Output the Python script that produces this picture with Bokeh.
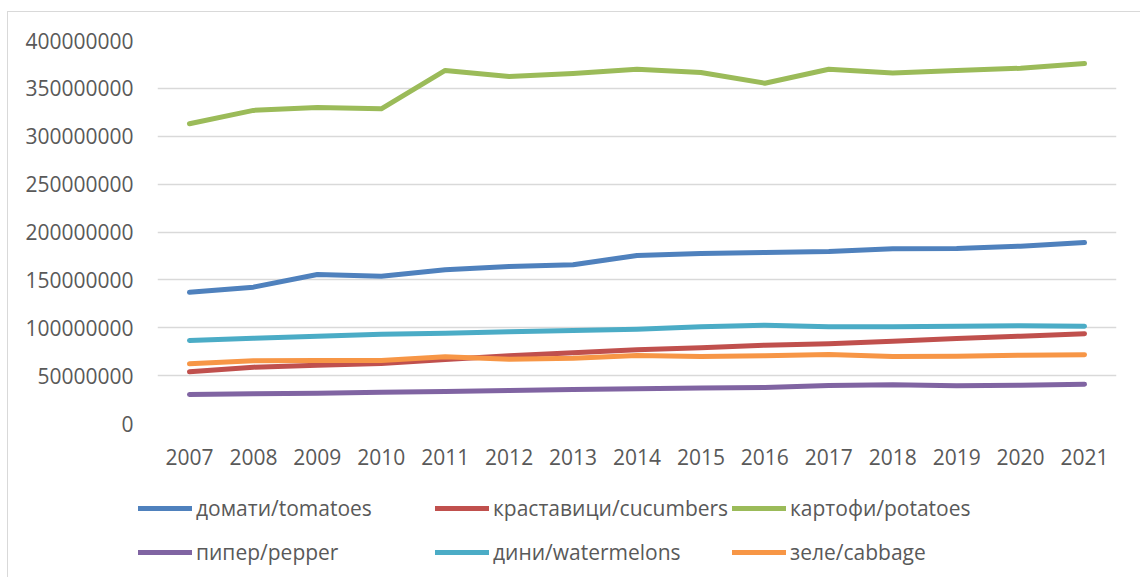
from bokeh.plotting import figure
from bokeh.models import (FactorRange, Range1d, FixedTicker, BasicTickFormatter,
                          Legend, LegendItem)
from bokeh.embed import file_html
from bokeh.resources import INLINE

years = [str(y) for y in range(2007, 2022)]
tomatoes = [137e6, 142.4e6, 155.6e6, 153.8e6, 160.5e6, 164e6, 165.7e6, 175.5e6,
            177.5e6, 178.6e6, 179.6e6, 182.4e6, 182.8e6, 185.2e6, 189e6]
cucumbers = [54e6, 58.8e6, 60.9e6, 62.7e6, 66.8e6, 70.7e6, 73.8e6, 77e6,
             79e6, 81.8e6, 83.2e6, 86e6, 88.8e6, 91.2e6, 93.7e6]
potatoes = [313e6, 327e6, 330e6, 328.6e6, 368.7e6, 362.4e6, 365.5e6, 370e6,
            366.6e6, 355.4e6, 370e6, 366e6, 368.7e6, 371e6, 376e6]
pepper = [30.3e6, 31e6, 31.7e6, 32.7e6, 33.4e6, 34.5e6, 35.5e6, 36.2e6,
          37.2e6, 37.6e6, 39.7e6, 40.4e6, 39.3e6, 40e6, 41e6]
watermelons = [86.7e6, 89e6, 91.2e6, 93.3e6, 94.3e6, 95.7e6, 97e6, 98.5e6,
               101e6, 102.7e6, 101e6, 101e6, 101.6e6, 102e6, 101.6e6]
cabbage = [62.3e6, 65.5e6, 65.8e6, 65.8e6, 69.6e6, 67.2e6, 68.2e6, 71e6,
           70e6, 70.7e6, 72e6, 70e6, 70.3e6, 71.3e6, 71.7e6]
y_ticks = [0, 50e6, 100e6, 150e6, 200e6, 250e6, 300e6, 350e6, 400e6]

series = [
    ("домати/tomatoes", tomatoes, "#4F81BD"),
    ("краставици/cucumbers", cucumbers, "#C0504D"),
    ("картофи/potatoes", potatoes, "#9BBB59"),
    ("пипер/pepper", pepper, "#8064A2"),
    ("дини/watermelons", watermelons, "#4BACC6"),
    ("зеле/cabbage", cabbage, "#F79646"),
]

FONT = "Open Sans"
TXT = "#595959"
BORDER = "1px solid #D9D9D9"
LW = 5

p = figure(x_range=FactorRange(*years, range_padding=0), y_range=Range1d(0, 400e6),
           width=1132, height=468, frame_width=959, frame_height=383,
           min_border_left=149, min_border_top=28, min_border_right=24, min_border_bottom=57,
           output_backend="svg", toolbar_location=None,
           styles={"margin-left": "7px", "margin-top": "11px",
                   "border-top": BORDER, "border-left": BORDER})
p.outline_line_color = None
p.background_fill_color = "white"
p.border_fill_color = "white"

for name, vals, col in series:
    p.line(years, vals, line_color=col, line_width=LW, line_cap="round", line_join="round")

p.xgrid.grid_line_color = None
p.ygrid.grid_line_color = "#D9D9D9"
p.ygrid.grid_line_width = 1.3
p.yaxis.ticker = FixedTicker(ticks=y_ticks)
p.yaxis.formatter = BasicTickFormatter(use_scientific=False)
for ax in (p.xaxis, p.yaxis):
    ax.axis_line_color = None
    ax.major_tick_line_color = None
    ax.minor_tick_line_color = None
    ax.major_tick_out = 0
    ax.major_tick_in = 0
    ax.major_label_text_font = FONT
    ax.major_label_text_font_size = "21px"
    ax.major_label_text_color = TXT
p.yaxis.major_label_standoff = 24
p.xaxis.major_label_standoff = 25

# legend strip: a second root whose line renderers hold no visible data
nan = float("nan")
lg = figure(width=1132, height=97, x_range=Range1d(0, 1), y_range=Range1d(0, 1),
            min_border_left=0, min_border_right=0, min_border_top=0, min_border_bottom=0,
            output_backend="svg", toolbar_location=None,
            styles={"margin-left": "7px", "border-left": BORDER})
lg.axis.visible = False
lg.grid.visible = False
lg.outline_line_color = None
lg.border_fill_color = "white"
items = []
for name, vals, col in series:
    r = lg.line(x=[nan], y=[nan], line_color=col, line_width=LW, line_cap="round")
    items.append(LegendItem(label=name, renderers=[r]))

legend = Legend(items=items, location=(130, 3), orientation="horizontal", nrows=2,
                glyph_width=54, glyph_height=44, label_height=44, label_width=239,
                label_standoff=4, spacing=0, padding=0, margin=0,
                border_line_color=None, background_fill_alpha=0,
                label_text_font=FONT, label_text_font_size="21px", label_text_color=TXT)
lg.add_layout(legend, "center")

open("out.html", "w").write(file_html([p, lg], INLINE))
